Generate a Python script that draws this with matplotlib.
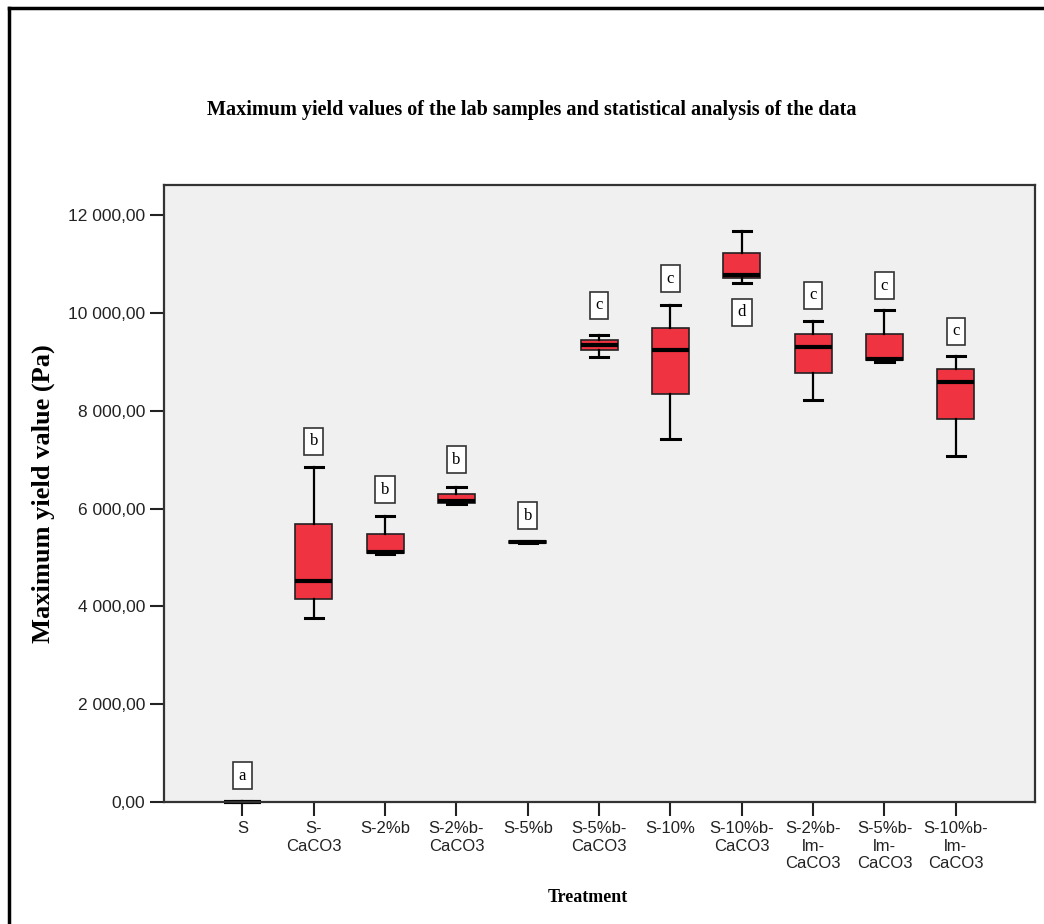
import matplotlib
matplotlib.use("Agg")
import matplotlib.pyplot as plt
from matplotlib.lines import Line2D
from matplotlib.ticker import FuncFormatter

# treatments (tick labels) and the five box statistics, in Pa
treatments = ['S', 'S-\nCaCO3', 'S-2%b', 'S-2%b-\nCaCO3', 'S-5%b', 'S-5%b-\nCaCO3',
              'S-10%', 'S-10%b-\nCaCO3', 'S-2%b-\nlm-\nCaCO3', 'S-5%b-\nlm-\nCaCO3',
              'S-10%b-\nlm-\nCaCO3']
whis_low = [0, 3770, 5080, 6090, 5290, 9110, 7420, 10610, 8220, 9000, 7080]
q1 = [0, 4160, 5090, 6120, 5295, 9245, 8335, 10710, 8765, 9040, 7840]
median = [0, 4525, 5110, 6160, 5310, 9345, 9245, 10785, 9305, 9065, 8595]
q3 = [10, 5690, 5480, 6300, 5330, 9445, 9690, 11225, 9580, 9570, 8860]
whis_high = [20, 6860, 5840, 6445, 5345, 9545, 10160, 11675, 9840, 10055, 9120]

# statistical groups and where their little boxes sit
groups = ['a', 'b', 'b', 'b', 'b', 'c', 'c', 'd', 'c', 'c', 'c']
group_y = [540, 7380, 6390, 7000, 5860, 10165, 10705, 10020, 10365, 10555, 9630]

serif = ['Liberation Serif', 'DejaVu Serif']
sans = ['Liberation Sans', 'DejaVu Sans']

fig = plt.figure(figsize=(10.44, 9.24), dpi=100)
ax = fig.add_axes([164 / 1044, 1 - 802 / 924, (1035 - 164) / 1044, (802 - 185) / 924])
ax.set_facecolor('#f0f0f0')

stats = []
for i in range(len(treatments)):
    stats.append({'whislo': whis_low[i], 'q1': q1[i], 'med': median[i],
                  'q3': q3[i], 'whishi': whis_high[i], 'fliers': []})
pos = list(range(1, len(treatments) + 1))
parts = ax.bxp(stats, positions=pos, widths=0.52, patch_artist=True, showfliers=False,
               boxprops=dict(facecolor='#ef3340', edgecolor='#222222', linewidth=1.2),
               medianprops=dict(color='black', linewidth=3),
               whiskerprops=dict(color='black', linewidth=1.6),
               capprops=dict(color='black', linewidth=2.2),
               capwidths=0.26)
for key in parts:
    for art in parts[key]:
        art.set_clip_on(False)

for x, g, y in zip(pos, groups, group_y):
    ax.text(x, y, g, ha='center', va='center', fontsize=12, family=serif,
            bbox=dict(boxstyle='square,pad=0.33', facecolor='white',
                      edgecolor='#333333', linewidth=1.2))

ax.set_xlim(-0.10, 12.11)
ax.set_ylim(0, 12620)
ax.set_yticks([0, 2000, 4000, 6000, 8000, 10000, 12000])
ax.yaxis.set_major_formatter(FuncFormatter(
    lambda v, p: f"{v:,.2f}".replace(',', ' ').replace('.', ',')))
ax.set_xticks(pos)
ax.set_xticklabels(treatments, family=sans, fontsize=12, linespacing=1.2)
for lab in ax.get_yticklabels():
    lab.set_family(sans)
    lab.set_fontsize(12.5)
ax.tick_params(axis='both', direction='out', length=10, width=1.5, color='#222222',
               labelcolor='#222222')
ax.tick_params(axis='x', pad=4)
for s in ax.spines.values():
    s.set_color('#333333')
    s.set_linewidth(1.6)

ax.set_ylabel('Maximum yield value (Pa)', family=serif, fontsize=19, fontweight='bold')
ax.yaxis.set_label_coords(-0.125, 0.5)
fig.text(588 / 1044, 1 - 898 / 924, 'Treatment', ha='center', va='center',
         family=serif, fontsize=13, fontweight='bold')
fig.text(532 / 1044, 1 - 110 / 924,
         'Maximum yield values of the lab samples and statistical analysis of the data',
         ha='center', va='center', family=serif, fontsize=14.5, fontweight='bold')

# outer frame (only the left and top edges show in the reference)
fig.add_artist(Line2D([9 / 1044, 9 / 1044], [0, 1 - 8 / 924], color='black', linewidth=2.5))
fig.add_artist(Line2D([9 / 1044, 1], [1 - 8 / 924, 1 - 8 / 924], color='black', linewidth=2.5))

fig.savefig('out.png', dpi=100)
